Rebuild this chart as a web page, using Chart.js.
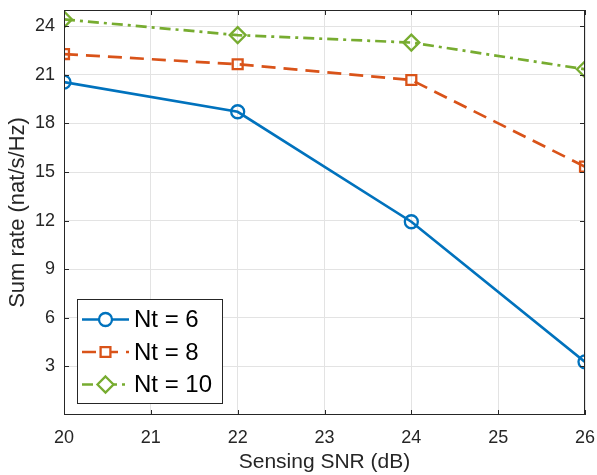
<!DOCTYPE html>
<html lang="en">
<head>
  <meta charset="UTF-8">
  <title>Sum rate vs sensing SNR</title>
  <script src="https://cdn.jsdelivr.net/npm/chart.js"></script>
  <style>
    html, body { margin: 0; padding: 0; background: #fff; }
    #wrap { width: 597px; height: 475px; }
  </style>
</head>
<body>
  <div id="wrap"><canvas id="grafica"></canvas></div>

  <script>
    // Datos
    const snr = [20, 22, 24, 26];
    const rateNt6 = [20.55, 18.72, 11.93, 3.28];
    const rateNt8 = [22.28, 21.65, 20.68, 15.33];
    const rateNt10 = [24.42, 23.45, 22.99, 21.34];
    const xTicks = [20, 21, 22, 23, 24, 25, 26];
    const yTicks = [3, 6, 9, 12, 15, 18, 21, 24];

    const axisColor = '#262626';
    const fontFam = '"Liberation Sans", Arial, Helvetica, sans-serif';

    const pts = (ys) => snr.map((x, i) => ({ x: x, y: ys[i] }));

    // caja y marcas hacia dentro, estilo MATLAB
    const boxPlugin = {
      id: 'box',
      afterDatasetsDraw(chart) {
        const { ctx, chartArea: a, scales } = chart;
        ctx.save();
        ctx.strokeStyle = axisColor;
        ctx.lineWidth = 1;
        ctx.strokeRect(a.left + 0.5, a.top + 0.5, a.right - a.left - 1, a.bottom - a.top - 1);
        const t = 5;
        ctx.beginPath();
        xTicks.forEach(v => {
          const px = Math.round(scales.x.getPixelForValue(v)) + 0.5;
          ctx.moveTo(px, a.bottom); ctx.lineTo(px, a.bottom - t);
          ctx.moveTo(px, a.top); ctx.lineTo(px, a.top + t);
        });
        yTicks.forEach(v => {
          const py = Math.round(scales.y.getPixelForValue(v)) + 0.5;
          ctx.moveTo(a.left, py); ctx.lineTo(a.left + t, py);
          ctx.moveTo(a.right, py); ctx.lineTo(a.right - t, py);
        });
        ctx.stroke();
        ctx.restore();
      }
    };

    // leyenda dentro del área del gráfico (abajo a la izquierda)
    const legendPlugin = {
      id: 'insideLegend',
      afterDraw(chart) {
        const { ctx } = chart;
        const bx = 77, by = 299, bw = 145, bh = 104;
        ctx.save();
        ctx.fillStyle = '#fff';
        ctx.fillRect(bx, by, bw, bh);
        ctx.strokeStyle = axisColor;
        ctx.lineWidth = 1;
        ctx.strokeRect(bx + 0.5, by + 0.5, bw, bh);
        ctx.font = '24px ' + fontFam;
        ctx.textBaseline = 'middle';
        chart.data.datasets.forEach((ds, i) => {
          const cy = 319.5 + i * 32.5;
          ctx.strokeStyle = ds.borderColor;
          ctx.lineWidth = ds.borderWidth;
          ctx.setLineDash(ds.borderDash || []);
          ctx.beginPath();
          ctx.moveTo(82, cy); ctx.lineTo(129, cy);
          ctx.stroke();
          ctx.setLineDash([]);
          const r = ds.pointRadius;
          ctx.beginPath();
          if (ds.pointStyle === 'circle') {
            ctx.arc(105.5, cy, r, 0, Math.PI * 2);
          } else if (ds.pointStyle === 'rect') {
            ctx.rect(105.5 - r * 0.7, cy - r * 0.7, r * 1.4, r * 1.4);
          } else {
            ctx.moveTo(105.5, cy - r); ctx.lineTo(105.5 + r, cy);
            ctx.lineTo(105.5, cy + r); ctx.lineTo(105.5 - r, cy); ctx.closePath();
          }
          ctx.fillStyle = '#fff';
          ctx.fill();
          ctx.lineWidth = ds.pointBorderWidth;
          ctx.stroke();
          ctx.fillStyle = '#000';
          ctx.fillText(ds.label, 134, cy + 1);
        });
        ctx.restore();
      }
    };

    new Chart(document.getElementById('grafica'), {
      type: 'line',
      data: {
        datasets: [
          {
            label: 'Nt = 6', data: pts(rateNt6),
            borderColor: '#0072BD', borderWidth: 2.7,
            pointStyle: 'circle', pointRadius: 6.5, pointBorderWidth: 2.3,
            pointBackgroundColor: 'rgba(0,0,0,0)', pointBorderColor: '#0072BD'
          },
          {
            label: 'Nt = 8', data: pts(rateNt8),
            borderColor: '#D95319', borderWidth: 2.7, borderDash: [14, 8],
            pointStyle: 'rect', pointRadius: 7, pointBorderWidth: 2.3,
            pointBackgroundColor: 'rgba(0,0,0,0)', pointBorderColor: '#D95319'
          },
          {
            label: 'Nt = 10', data: pts(rateNt10),
            borderColor: '#77AC30', borderWidth: 2.7, borderDash: [11, 5, 3, 5],
            pointStyle: 'rectRot', pointRadius: 8, pointBorderWidth: 2.3,
            pointBackgroundColor: 'rgba(0,0,0,0)', pointBorderColor: '#77AC30'
          }
        ]
      },
      options: {
        responsive: true,
        maintainAspectRatio: false,
        animation: false,
        layout: { autoPadding: false, padding: { top: 10, right: 12, left: 0, bottom: 0 } },
        plugins: {
          legend: { display: false },
          tooltip: { enabled: false }
        },
        scales: {
          x: {
            type: 'linear', min: 20, max: 26,
            afterBuildTicks: (s) => { s.ticks = xTicks.map(v => ({ value: v })); },
            afterFit: (s) => { s.height = 60; s.paddingLeft = 0; s.paddingRight = 0; },
            grid: { color: '#e3e3e3', drawTicks: false },
            border: { display: false },
            ticks: { color: axisColor, padding: 12, font: { family: fontFam, size: 18 }, maxRotation: 0 },
            title: {
              display: true, text: 'Sensing SNR (dB)', color: axisColor,
              font: { family: fontFam, size: 21 }, padding: { top: 0, bottom: 0 }
            }
          },
          y: {
            min: 0, max: 25,
            afterBuildTicks: (s) => { s.ticks = yTicks.map(v => ({ value: v })); },
            afterFit: (s) => { s.width = 64; s.paddingTop = 0; s.paddingBottom = 0; },
            grid: { color: '#e3e3e3', drawTicks: false },
            border: { display: false },
            ticks: { color: axisColor, padding: 9, font: { family: fontFam, size: 18 } },
            title: {
              display: true, text: 'Sum rate (nat/s/Hz)', color: axisColor,
              font: { family: fontFam, size: 22 }, padding: { top: 5, bottom: 0 }
            }
          }
        }
      },
      plugins: [boxPlugin, legendPlugin]
    });
  </script>
</body>
</html>
